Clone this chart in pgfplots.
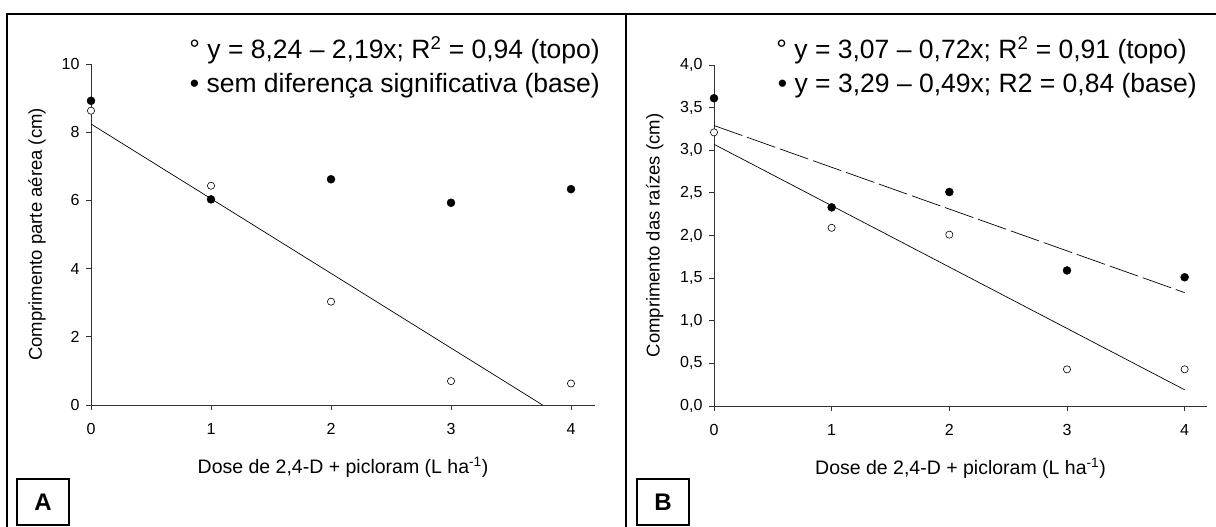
\documentclass[border=0pt]{standalone}
\usepackage{pgfplots}
\pgfplotsset{compat=1.18}
\usepackage{fontspec}
\setmainfont{Liberation Sans}

\pgfplotsset{
  panel/.style={
    scale only axis, axis lines=left, axis line style={-, line width=0.8pt, black!80},
    tick align=outside, major tick length=5pt, tick style={black!80, line width=0.8pt},
    xmin=0, xtick={0,1,2,3,4}, clip=false, ymin=0,
    tick label style={font=\fontsize{16}{18}\selectfont},
    /pgf/number format/assume math mode=true,
    xticklabel style={yshift=-10pt},
    yticklabel style={xshift=-3pt},
    xlabel style={font=\fontsize{19.5}{22}\selectfont, at={(axis description cs:0.5,0)}, anchor=base, yshift=-69pt},
  },
  topo/.style={only marks, mark=*, mark size=3.6pt, mark options={fill=white, draw=black, line width=0.6pt}},
  base/.style={only marks, mark=*, mark size=4pt, mark options={fill=black, draw=black}},
}

\begin{document}
\begin{tikzpicture}[x=1pt,y=1pt]
\useasboundingbox (0,0) rectangle (1216,527);
% frames
\draw[line width=2.6pt] (7,0) -- (7,513) -- (1216,513);
\draw[line width=2.6pt] (626,513) -- (626,0);

% Panel A
\begin{axis}[panel, at={(91pt,122pt)}, anchor=south west,
  width=504pt, height=341pt, xmax=4.2, ymax=10, ytick={0,2,...,10},
  xlabel={Dose de 2,4-D + picloram (L ha\textsuperscript{-1})},
  ylabel={Comprimento parte aérea (cm)},
  ylabel style={font=\fontsize{18.5}{21}\selectfont, at={(axis description cs:-0.107,0.5)}, anchor=center}]
\addplot[black, line width=0.7pt] coordinates {(0,8.24) (3.763,0)};
\addplot[topo] coordinates {(0,8.63)(1,6.43)(2,3.03)(3,0.70)(4,0.63)};
\addplot[base] coordinates {(0,8.92)(1,6.03)(2,6.62)(3,5.93)(4,6.33)};
\end{axis}

% Panel B
\begin{axis}[panel, at={(714pt,121pt)}, anchor=south west,
  width=493pt, height=341pt, xmax=4.19, ymax=4, ytick={0,0.5,...,4},
  yticklabel style={/pgf/number format/.cd, fixed, fixed zerofill, precision=1, use comma},
  xlabel={Dose de 2,4-D + picloram (L ha\textsuperscript{-1})},
  ylabel={Comprimento das raízes (cm)},
  ylabel style={font=\fontsize{18.5}{21}\selectfont, at={(axis description cs:-0.12,0.5)}, anchor=center}]
\addplot[black, line width=0.7pt] coordinates {(0,3.07)(4,0.19)};
\addplot[black, line width=0.7pt, dash pattern=on 30pt off 5pt] coordinates {(0,3.29)(4,1.33)};
\addplot[topo] coordinates {(0,3.21)(1,2.09)(2,2.01)(3,0.43)(4,0.43)};
\addplot[base] coordinates {(0,3.61)(1,2.33)(2,2.51)(3,1.59)(4,1.51)};
\end{axis}

% legend texts
\begingroup
\fontsize{26.5}{30}\selectfont
\node[anchor=base east, inner sep=0pt] at (600,468) {° y = 8,24 – 2,19x; R\textsuperscript{2} = 0,94 (topo)};
\node[anchor=base east, inner sep=0pt] at (600,434) {• sem diferença significativa (base)};
\node[anchor=base east, inner sep=0pt] at (1187,468) {° y = 3,07 – 0,72x; R\textsuperscript{2} = 0,91 (topo)};
\node[anchor=base east, inner sep=0pt] at (1197,434) {• y = 3,29 – 0,49x; R2 = 0,84 (base)};
\endgroup

% panel letters
\node[draw, line width=1.4pt, minimum width=52pt, minimum height=46pt, font=\fontsize{24}{28}\selectfont\bfseries] at (43,25) {A};
\node[draw, line width=1.4pt, minimum width=52pt, minimum height=46pt, font=\fontsize{24}{28}\selectfont\bfseries] at (663,25) {B};
\end{tikzpicture}
\end{document}
